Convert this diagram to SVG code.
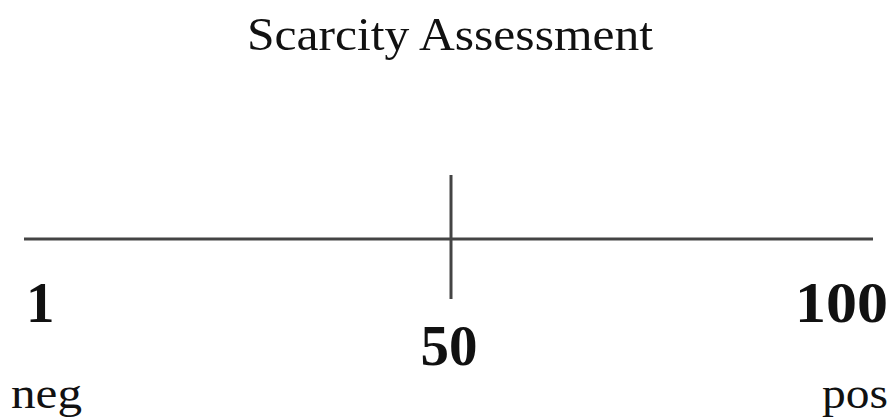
<svg xmlns="http://www.w3.org/2000/svg" width="889" height="419" viewBox="0 0 889 419">
<style>
.t{font-family:"Liberation Serif","Times New Roman",serif;fill:#111}
.b{font-weight:bold;font-size:57px}
.s{font-size:45px}
.ln{stroke:#444;stroke-width:3;fill:none}
</style>
<rect width="889" height="419" fill="#fff"/>
<text class="t" x="450" y="50" font-size="47" text-anchor="middle" textLength="406" lengthAdjust="spacingAndGlyphs">Scarcity Assessment</text>
<g id="connectors">
<line class="ln" x1="24" y1="239" x2="873" y2="239"/>
<line class="ln" x1="451" y1="175" x2="451" y2="299"/>
</g>
<g id="label-1"><text class="t b" x="26" y="322">1</text></g>
<g id="label-50"><text class="t b" x="449" y="365" text-anchor="middle">50</text></g>
<g id="label-100"><text class="t b" x="888" y="322" text-anchor="end" textLength="93" lengthAdjust="spacingAndGlyphs">100</text></g>
<g id="label-neg"><text class="t s" x="11" y="408" textLength="71" lengthAdjust="spacingAndGlyphs">neg</text></g>
<g id="label-pos"><text class="t s" x="888" y="408" text-anchor="end" textLength="66" lengthAdjust="spacingAndGlyphs">pos</text></g>
</svg>
